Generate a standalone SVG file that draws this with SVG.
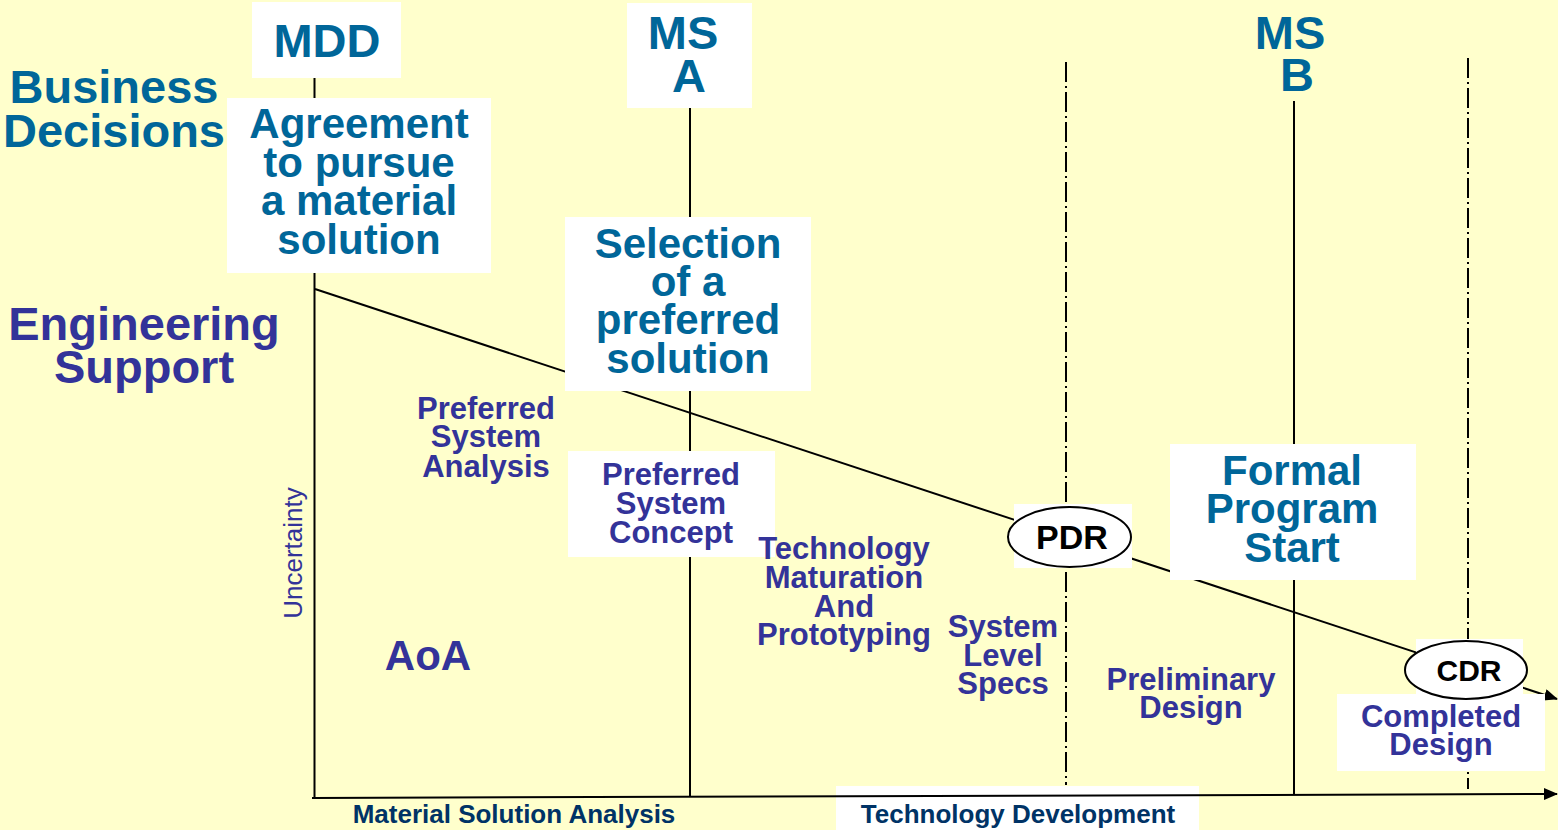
<svg xmlns="http://www.w3.org/2000/svg" width="1558" height="830" viewBox="0 0 1558 830">
<defs>
<style>
text{font-family:"Liberation Sans",Arial,sans-serif;font-weight:bold;text-anchor:middle}
.biz{fill:#006699}
.eng{fill:#333399}
.bot{fill:#003366;font-size:26px}
.box{fill:#ffffff}
.ln{stroke:#000;stroke-width:2;fill:none}
.dd{stroke:#000;stroke-width:2;fill:none;stroke-dasharray:20 4 2 4}
.ell{fill:#fff;stroke:#000;stroke-width:2}
</style>
<marker id="ah" viewBox="0 0 14 12" refX="13" refY="6" markerWidth="14" markerHeight="12" markerUnits="userSpaceOnUse" orient="auto">
<path d="M0,0 L14,6 L0,12 z" fill="#000"/>
</marker>
</defs>
<rect width="1558" height="830" fill="#FFFFCC"/>

<g id="label-business" class="biz" font-size="47">
<text x="114" y="103">Business</text>
<text x="114" y="147">Decisions</text>
</g>
<g id="label-engineering" class="eng" font-size="47">
<text x="144" y="340">Engineering</text>
<text x="144" y="383">Support</text>
</g>
<g id="label-tech-dev">
<rect class="box" x="836" y="786" width="363" height="44"/>
<text class="bot" x="1018" y="823">Technology Development</text>
</g>

<g id="connectors">
<line class="ln" x1="314.5" y1="78" x2="314.5" y2="798"/>
<line class="ln" x1="690" y1="108" x2="690" y2="797"/>
<line class="ln" x1="1294" y1="101" x2="1294" y2="795"/>
<line class="dd" x1="1066" y1="62" x2="1066" y2="785"/>
<line class="dd" x1="1468" y1="58" x2="1468" y2="789"/>
<line class="ln" x1="315" y1="289" x2="1557" y2="699" marker-end="url(#ah)"/>
<line class="ln" x1="312" y1="798" x2="1557" y2="794" marker-end="url(#ah)"/>
</g>

<g id="mdd">
<rect class="box" x="252" y="2" width="149" height="76"/>
<text class="biz" x="327" y="57" font-size="47">MDD</text>
</g>
<g id="agreement">
<rect class="box" x="227" y="98" width="264" height="175"/>
<g class="biz" font-size="42">
<text x="359" y="138">Agreement</text>
<text x="359" y="177">to pursue</text>
<text x="359" y="215">a material</text>
<text x="359" y="254">solution</text>
</g>
</g>
<g id="ms-a">
<rect class="box" x="627" y="3" width="125" height="105"/>
<g class="biz" font-size="47">
<text x="683" y="49">MS</text>
<text x="689" y="92">A</text>
</g>
</g>
<g id="selection">
<rect class="box" x="565" y="217" width="246" height="174"/>
<g class="biz" font-size="42">
<text x="688" y="258">Selection</text>
<text x="688" y="296">of a</text>
<text x="688" y="334">preferred</text>
<text x="688" y="373">solution</text>
</g>
</g>
<g id="ms-b" class="biz" font-size="47">
<text x="1290" y="49">MS</text>
<text x="1297" y="91">B</text>
</g>
<g id="formal">
<rect class="box" x="1170" y="444" width="246" height="136"/>
<g class="biz" font-size="42">
<text x="1292" y="485">Formal</text>
<text x="1292" y="523">Program</text>
<text x="1292" y="562">Start</text>
</g>
</g>

<g id="uncertainty">
<text transform="translate(302,553) rotate(-90)" x="0" y="0" class="eng" font-size="26" style="font-weight:normal">Uncertainty</text>
</g>
<g id="psa" class="eng" font-size="31">
<text x="486" y="419">Preferred</text>
<text x="486" y="447">System</text>
<text x="486" y="477">Analysis</text>
</g>
<g id="psc">
<rect class="box" x="568" y="451" width="207" height="106"/>
<g class="eng" font-size="31">
<text x="671" y="485">Preferred</text>
<text x="671" y="514">System</text>
<text x="671" y="543">Concept</text>
</g>
</g>
<g id="aoa">
<text class="eng" x="428" y="670" font-size="42">AoA</text>
</g>
<g id="tmp" class="eng" font-size="31">
<text x="844" y="559">Technology</text>
<text x="844" y="588">Maturation</text>
<text x="844" y="617">And</text>
<text x="844" y="645">Prototyping</text>
</g>
<g id="sls" class="eng" font-size="31">
<text x="1003" y="637">System</text>
<text x="1003" y="666">Level</text>
<text x="1003" y="694">Specs</text>
</g>
<g id="pdr">
<rect class="box" x="1014" y="504" width="118" height="64"/>
<ellipse class="ell" cx="1069.5" cy="537" rx="61.5" ry="30"/>
<text x="1072" y="549" font-size="34" fill="#000">PDR</text>
</g>
<g id="prelim" class="eng" font-size="31">
<text x="1191" y="690">Preliminary</text>
<text x="1191" y="718">Design</text>
</g>
<g id="completed">
<rect class="box" x="1337" y="694" width="208" height="77"/>
<g class="eng" font-size="31">
<text x="1441" y="727">Completed</text>
<text x="1441" y="755">Design</text>
</g>
</g>
<g id="cdr">
<rect class="box" x="1416" y="639" width="107" height="56"/>
<ellipse class="ell" cx="1466" cy="670" rx="61" ry="29"/>
<text x="1469" y="681" font-size="30" fill="#000">CDR</text>
</g>
<g id="label-msa">
<text class="bot" x="514" y="823">Material Solution Analysis</text>
</g>
</svg>
